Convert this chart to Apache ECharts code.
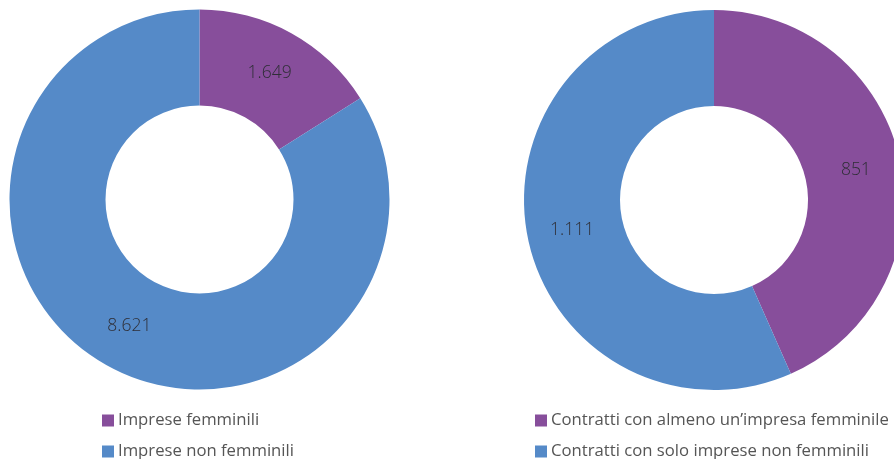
<!DOCTYPE html>
<html><head><meta charset="utf-8">
<script src="https://cdn.jsdelivr.net/npm/echarts@6/dist/echarts.min.js"></script>
<style>html,body{margin:0;padding:0;background:#fff}#c{width:894px;height:459px}</style>
</head><body><div id="c"></div>
<script>
const leftNames = ['Imprese femminili', 'Imprese non femminili'];
const leftValues = [1649, 8621];
const rightNames = ["Contratti con almeno un\u2019impresa femminile", 'Contratti con solo imprese non femminili'];
const rightValues = [851, 1111];
const colors = ['#874e9b', '#558ac8'];

const fmt = v => v.toLocaleString('it-IT');
const font = '"Open Sans", sans-serif';
function pieSeries(names, values, center) {
  return {
    type: 'pie', radius: [94, 190], center: center, startAngle: 90, clockwise: true,
    avoidLabelOverlap: false, silent: true,
    itemStyle: { borderWidth: 0 },
    label: { show: true, position: 'inside', formatter: p => fmt(p.value), color: '#2e2e36', fontSize: 17.5, fontFamily: font, fontWeight: 300 },
    labelLine: { show: false },
    data: names.map((n, i) => ({ name: n, value: values[i], itemStyle: { color: colors[i] } }))
  };
}
const legendCommon = {
  orient: 'vertical', top: 412, height: 60, itemWidth: 12, itemHeight: 12, itemGap: 14, icon: 'rect', padding: 0,
  textStyle: { color: '#555', fontSize: 16.7, lineHeight: 16, fontFamily: font, padding: [0, 0, 0, -1] }
};
const chart = echarts.init(document.getElementById('c'), null, { renderer: 'canvas' });
chart.setOption({
  animation: false,
  legend: [
    Object.assign({}, legendCommon, { data: leftNames, left: 102 }),
    Object.assign({}, legendCommon, { data: rightNames, left: 535 })
  ],
  series: [
    pieSeries(leftNames, leftValues, [199.5, 199.5]),
    pieSeries(rightNames, rightValues, [714, 200])
  ]
});
</script></body></html>
